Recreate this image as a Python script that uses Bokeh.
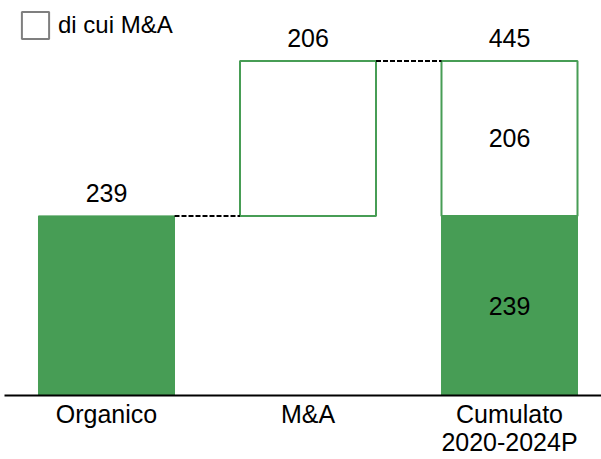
from bokeh.plotting import figure
from bokeh.models import Range1d, FixedTicker, Legend, LegendItem, ColumnDataSource
from bokeh.embed import file_html
from bokeh.resources import INLINE
from bokeh.core.properties import value

# ---- data ----
categories = ["Organico", "M&A", "Cumulato\n2020-2024P"]
organico = 239
ma = 206
cumulato = 445
legend_label = "di cui M&A"

GREEN = "#479d55"
FONT = "Liberation Sans"
W = 0.675

xs = list(range(len(categories)))

p = figure(frame_width=597, frame_height=395, output_backend="svg", toolbar_location=None,
           x_range=Range1d(-0.5062, 2.4566), y_range=Range1d(0, 525.6),
           min_border_left=4, min_border_right=0, min_border_top=0, min_border_bottom=0)
p.outline_line_color = None
p.grid.visible = False
p.yaxis.visible = False
p.background_fill_color = "white"
p.border_fill_color = "white"

# filled (organic) bars
filled = ColumnDataSource(dict(x=[xs[0], xs[2]], bottom=[0, 0], top=[organico, organico]))
p.vbar(x="x", bottom="bottom", top="top", width=W, source=filled,
       fill_color=GREEN, line_color=GREEN, line_width=1)

# outlined (M&A) bars
outl = ColumnDataSource(dict(x=[xs[1], xs[2]], bottom=[organico, organico], top=[organico + ma, cumulato]))
p.vbar(x="x", bottom="bottom", top="top", width=W, source=outl,
       fill_color="white", line_color=GREEN, line_width=2)

# connectors
p.segment(x0=[xs[0] + W / 2, xs[1] + W / 2], y0=[organico, organico + ma],
          x1=[xs[1] - W / 2, xs[2] - W / 2], y1=[organico, cumulato],
          line_color="black", line_width=2, line_dash="5 2")

# value labels above bars
p.text(x=xs, y=[organico, organico + ma, cumulato], text=[str(organico), str(ma), str(cumulato)],
       text_align="center", text_baseline="alphabetic", y_offset=-23,
       text_font=value(FONT), text_font_size="25px", text_color="black")
# value labels inside cumulative bar
p.text(x=[xs[2], xs[2]], y=[organico / 2, organico + ma / 2], text=[str(organico), str(ma)],
       text_align="center", text_baseline="middle",
       text_font=value(FONT), text_font_size="25px", text_color="black")

# x axis
ax = p.xaxis[0]
ax.ticker = FixedTicker(ticks=xs)
ax.major_label_overrides = {i: c for i, c in zip(xs, categories)}
ax.major_tick_line_color = None
ax.minor_tick_line_color = None
ax.major_tick_out = 0
ax.major_tick_in = 0
ax.axis_line_color = "black"
ax.axis_line_width = 2
ax.major_label_standoff = 4
ax.major_label_text_font = FONT
ax.major_label_text_font_size = "25px"
ax.major_label_text_line_height = 1.0
ax.major_label_text_color = "black"

# legend
nan = float("nan")
dummy = p.rect(x=[nan], y=[nan], width=1, height=1, fill_color="white", line_color="#7f7f7f", line_width=2)
leg = Legend(items=[LegendItem(label=legend_label, renderers=[dummy])],
             location=(14, 353), padding=0, margin=0, spacing=0,
             glyph_width=34, glyph_height=34, label_height=34, label_standoff=6,
             label_text_font=FONT, label_text_font_size="24px", label_text_color="black",
             border_line_color=None, background_fill_alpha=0)
p.add_layout(leg, "center")

open("out.html", "w").write(file_html(p, INLINE))
